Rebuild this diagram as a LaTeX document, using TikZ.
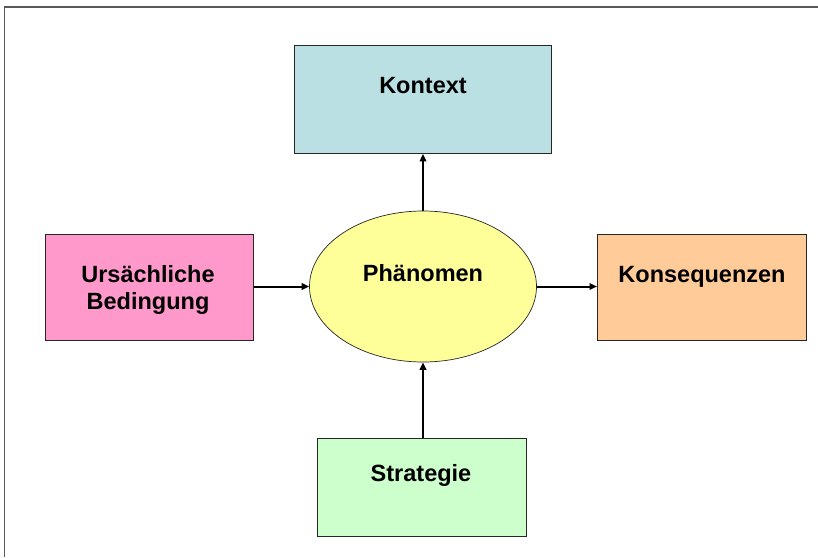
\documentclass[tikz,border=0pt]{standalone}
\usepackage{fontspec}
\setmainfont{Liberation Sans}
\usetikzlibrary{arrows.meta,shapes.geometric}
\definecolor{ctxfill}{HTML}{BBE0E3}
\definecolor{causefill}{HTML}{FF99CC}
\definecolor{phenfill}{HTML}{FFFF99}
\definecolor{consfill}{HTML}{FFCC99}
\definecolor{stratfill}{HTML}{CCFFCC}
\tikzset{
  box/.style={draw=black!85, line width=0.9pt, inner sep=0pt, anchor=north west},
  lbl/.style={font=\bfseries\fontsize{23.5}{27.5}\selectfont, align=center, inner sep=0pt, anchor=base},
  flow/.style={line width=2pt, -{Triangle[length=7.5pt,width=6.5pt]}},
}
\begin{document}
\begin{tikzpicture}[x=1pt,y=-1pt]
  \useasboundingbox (0,0) rectangle (818,557);
  % outer frame, open to the right and bottom
  \draw[gray!70!black, line width=1.5pt] (4.5,557) -- (4.5,7) -- (818,7);

  % boxes
  \node[box, fill=ctxfill, minimum width=257pt, minimum height=108pt] (ctx) at (294,45) {};
  \node[box, fill=causefill, minimum width=208pt, minimum height=106pt] (cause) at (45,234) {};
  \node[box, fill=consfill, minimum width=209pt, minimum height=106pt] (cons) at (597,234) {};
  \node[box, fill=stratfill, minimum width=209pt, minimum height=98pt] (strat) at (317,438) {};
  \node[draw=black!85, line width=0.7pt, fill=phenfill, ellipse, inner sep=0pt,
        minimum width=227pt, minimum height=151pt] (phen) at (423,286.5) {};

  % labels (placed on the baseline of their last line)
  \node[lbl] (ctxl) at (423,93) {Kontext};
  \node[lbl] (causel) at (148,309.5) {Ursächliche\\Bedingung};
  \node[lbl] (consl) at (702,282) {Konsequenzen};
  \node[lbl] (stratl) at (421,481) {Strategie};
  \node[lbl] (phenl) at (423,281) {Phänomen};

  % connectors
  \draw[flow] (phen.north) -- (ctx.south -| phen.north);
  \draw[flow] (cause.east |- phen.west) -- (phen.west);
  \draw[flow] (phen.east) -- (cons.west |- phen.east);
  \draw[flow] (strat.north -| phen.south) -- (phen.south);
\end{tikzpicture}
\end{document}
